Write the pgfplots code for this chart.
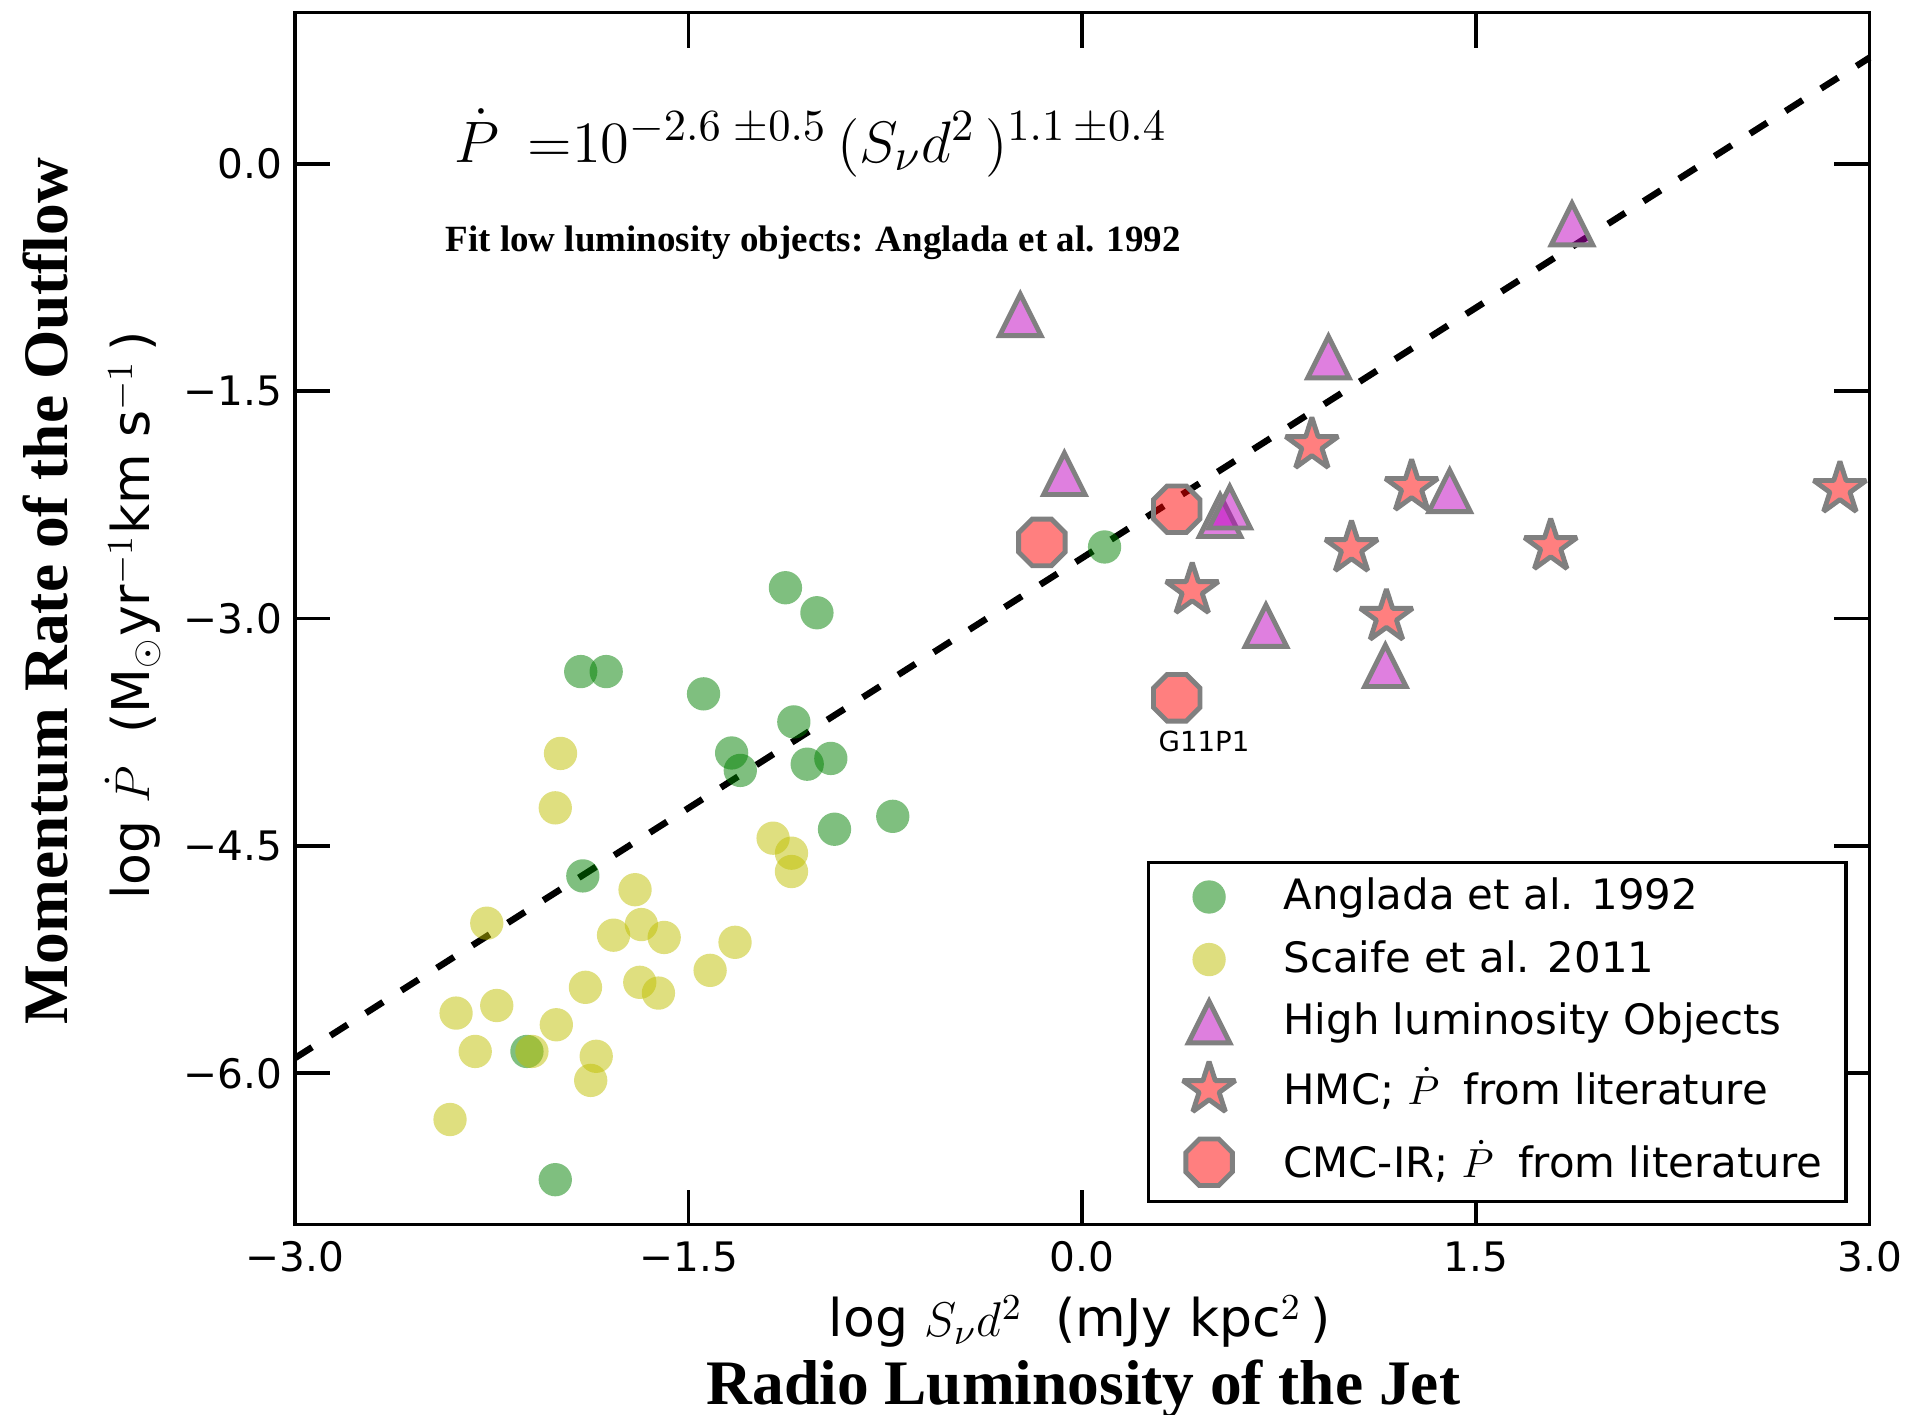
\documentclass[border=0pt]{standalone}
\usepackage[no-math]{fontspec}
\setmainfont{DejaVu Sans}
\newfontfamily\serifbold{Liberation Serif}
\usepackage{pgfplots}
\pgfplotsset{compat=1.18}

% matplotlib base colours
\definecolor{mplg}{rgb}{0,0.5,0}
\definecolor{mply}{rgb}{0.75,0.75,0}
\definecolor{mplm}{rgb}{0.75,0,0.75}
\definecolor{mplr}{rgb}{1,0,0}
\definecolor{edgegray}{rgb}{0.5,0.5,0.5}

% triangle with equal width and height
\pgfdeclareplotmark{mtri}{%
  \pgfpathmoveto{\pgfqpoint{0pt}{\pgfplotmarksize}}%
  \pgfpathlineto{\pgfqpoint{-\pgfplotmarksize}{-\pgfplotmarksize}}%
  \pgfpathlineto{\pgfqpoint{\pgfplotmarksize}{-\pgfplotmarksize}}%
  \pgfpathclose
  \pgfusepathqfillstroke}
% filled five-pointed star
\pgfdeclareplotmark{pentastar}{%
  \pgfpathmoveto{\pgfpointpolar{90}{\pgfplotmarksize}}%
  \pgfpathlineto{\pgfpointpolar{126}{0.381966\pgfplotmarksize}}%
  \pgfpathlineto{\pgfpointpolar{162}{\pgfplotmarksize}}%
  \pgfpathlineto{\pgfpointpolar{198}{0.381966\pgfplotmarksize}}%
  \pgfpathlineto{\pgfpointpolar{234}{\pgfplotmarksize}}%
  \pgfpathlineto{\pgfpointpolar{270}{0.381966\pgfplotmarksize}}%
  \pgfpathlineto{\pgfpointpolar{306}{\pgfplotmarksize}}%
  \pgfpathlineto{\pgfpointpolar{342}{0.381966\pgfplotmarksize}}%
  \pgfpathlineto{\pgfpointpolar{18}{\pgfplotmarksize}}%
  \pgfpathlineto{\pgfpointpolar{54}{0.381966\pgfplotmarksize}}%
  \pgfpathclose
  \pgfusepathqfillstroke}
% octagon with flat top
\pgfdeclareplotmark{octagon}{%
  \pgfpathmoveto{\pgfpointpolar{22.5}{\pgfplotmarksize}}%
  \pgfpathlineto{\pgfpointpolar{67.5}{\pgfplotmarksize}}%
  \pgfpathlineto{\pgfpointpolar{112.5}{\pgfplotmarksize}}%
  \pgfpathlineto{\pgfpointpolar{157.5}{\pgfplotmarksize}}%
  \pgfpathlineto{\pgfpointpolar{202.5}{\pgfplotmarksize}}%
  \pgfpathlineto{\pgfpointpolar{247.5}{\pgfplotmarksize}}%
  \pgfpathlineto{\pgfpointpolar{292.5}{\pgfplotmarksize}}%
  \pgfpathlineto{\pgfpointpolar{337.5}{\pgfplotmarksize}}%
  \pgfpathclose
  \pgfusepathqfillstroke}

% legend image: one mark, in a cell of fixed depth (#1) and height (#2)
\pgfplotsset{
  legmark/.style 2 args={legend image code/.code={%
      \begin{pgfinterruptboundingbox}
        \draw[##1] plot coordinates {(0pt,0pt)};
      \end{pgfinterruptboundingbox}
      \path[draw=none, fill=none] (-9pt,-#1) rectangle (9pt,#2);}},
}

\begin{document}
\begin{tikzpicture}
\begin{axis}[
  at={(0,0)}, anchor=south west,
  scale only axis, width=387.6pt, height=298.5pt,
  xmin=-3, xmax=3, ymin=-7, ymax=1,
  xtick={-3,-1.5,0,1.5,3},
  xticklabels={−3.0,−1.5,0.0,1.5,3.0},
  ytick={-6,-4.5,-3,-1.5,0},
  yticklabels={−6.0,−4.5,−3.0,−1.5,0.0},
  minor tick num=0,
  tick align=inside, major tick length=8.7pt,
  tick style={black, line width=0.9pt},
  axis line style={line width=0.8pt},
  ticklabel style={font=\fontsize{10}{12}\selectfont, inner sep=0pt},
  xticklabel style={yshift=-3.9pt},
  yticklabel style={xshift=-3pt},
  clip=false,
  legend cell align=left,
  legend style={
    at={(axis description cs:0.9861,0.0181)}, anchor=south east,
    draw=black, line width=0.8pt, fill=white,
    inner xsep=5.9pt, inner ysep=0.7pt,
    font=\fontsize{10.3}{12.4}\selectfont,
    row sep=0pt, column sep=9.3pt,
    nodes={inner sep=0pt},
  },
]
% Anglada et al. 1992
\addplot[only marks, mark=*, mark size=4.1pt,
  mark options={fill=mplg, fill opacity=0.5, draw opacity=0},
  legmark={7.7pt}{7.7pt}]
  coordinates {
  (-1.131,-2.797) (-1.011,-2.962) (-1.911,-3.350) (-1.814,-3.350)
  (-1.443,-3.497) (-1.099,-3.682) (-1.336,-3.887) (-1.303,-4.002)
  (-1.048,-3.961) (-0.958,-3.923) (-0.944,-4.390) (-0.722,-4.305)
  (-1.903,-4.698) (-2.116,-5.856) (-2.008,-6.702) (0.085,-2.528)
  };
\addlegendentry{Anglada et al. 1992}
% Scaife et al. 2011
\addplot[only marks, mark=*, mark size=4.1pt,
  mark options={fill=mply, fill opacity=0.5, draw opacity=0},
  legmark={7.7pt}{7.7pt}]
  coordinates {
  (-1.988,-3.890) (-2.008,-4.249) (-1.178,-4.449) (-1.108,-4.548)
  (-1.108,-4.669) (-1.704,-4.789) (-2.269,-5.010) (-1.680,-5.019)
  (-1.786,-5.089) (-1.593,-5.104) (-1.323,-5.136) (-1.418,-5.321)
  (-1.893,-5.433) (-1.686,-5.400) (-1.615,-5.471) (-2.386,-5.603)
  (-2.231,-5.553) (-2.004,-5.680) (-2.313,-5.856) (-2.097,-5.856)
  (-1.852,-5.888) (-1.873,-6.047) (-2.409,-6.305)
  };
\addlegendentry{Scaife et al. 2011}
% high luminosity objects
\addplot[only marks, mark=mtri, mark size=5.1pt,
  mark options={fill=mplm, fill opacity=0.5, draw=edgegray, line width=1.2pt, line join=miter},
  legmark={7.7pt}{7.7pt}]
  coordinates {
  (-0.236,-0.997) (1.866,-0.398) (0.938,-1.276) (-0.068,-2.045)
  (0.525,-2.322) (0.562,-2.266) (1.400,-2.158) (0.700,-3.047)
  (1.155,-3.312)
  };
\addlegendentry{High luminosity Objects}
% hot molecular cores
\addplot[only marks, mark=pentastar, mark size=6.8pt,
  mark options={fill=mplr, fill opacity=0.5, draw=edgegray, line width=1.2pt, line join=bevel},
  legmark={9.2pt}{8.8pt}]
  coordinates {
  (0.875,-1.856) (1.255,-2.133) (1.026,-2.536) (1.785,-2.523)
  (0.419,-2.813) (1.159,-2.989) (2.887,-2.146)
  };
\addlegendentry{HMC; $\dot{P}\;$ from literature}
% CMC-IR sources
\addplot[only marks, mark=octagon, mark size=6.2pt,
  mark options={fill=mplr, fill opacity=0.5, draw=edgegray, line width=1.2pt, line join=miter},
  legmark={8.9pt}{8.8pt}]
  coordinates {
  (-0.154,-2.498) (0.360,-2.279) (0.360,-3.523)
  };
\addlegendentry{CMC-IR; $\dot{P}\;$ from literature}
% fit to the low luminosity sample
\addplot[black, line width=1.6pt, dash pattern=on 5pt off 5.35pt, forget plot]
  coordinates {(-3,-5.9) (3,0.7)};
\node[anchor=base, inner sep=0pt, font=\fontsize{6.8}{8}\selectfont]
  at (axis cs:0.464,-3.874) {G11P1};
\end{axis}

\node[anchor=base west, inner sep=0pt, font=\fontsize{15.3}{18.4}\selectfont]
  at (39pt,261.6pt) {$\dot{P}\hspace{7pt}{=}10^{-2.6\hspace{3.2pt}{\pm}0.5}\,(S_{\nu}d^{2}\,)^{1.1\hspace{2.3pt}{\pm}0.4}$};
\node[anchor=base west, inner sep=0pt, font=\serifbold\bfseries\fontsize{9.1}{11}\selectfont]
  at (36.9pt,239.7pt) {Fit low luminosity objects: Anglada et al. 1992};

\node[anchor=base, inner sep=0pt, font=\fontsize{12.8}{15.4}\selectfont]
  at (193.2pt,-27.6pt) {log $S_{\nu}d^{2}$\ \ (mJy kpc$^{2}$\,)};
\node[anchor=base, inner sep=0pt, font=\serifbold\bfseries\fontsize{15.6}{18.7}\selectfont]
  at (194.1pt,-44.1pt) {Radio Luminosity of the Jet};
\node[rotate=90, anchor=base, inner sep=0pt, font=\fontsize{12.8}{15.4}\selectfont]
  at (-35.7pt,150pt) {log $\dot{P}$\ \ (M$_{\odot}$yr$^{-1}$km s$^{-1}$\,)};
\node[rotate=90, anchor=base, inner sep=0pt, font=\serifbold\bfseries\fontsize{15.6}{18.7}\selectfont]
  at (-56.1pt,156pt) {Momentum Rate of the Outflow};

\pgfresetboundingbox
\useasboundingbox (-72.6pt,-46.8pt) rectangle (397.8pt,301.5pt);
\end{tikzpicture}
\end{document}
